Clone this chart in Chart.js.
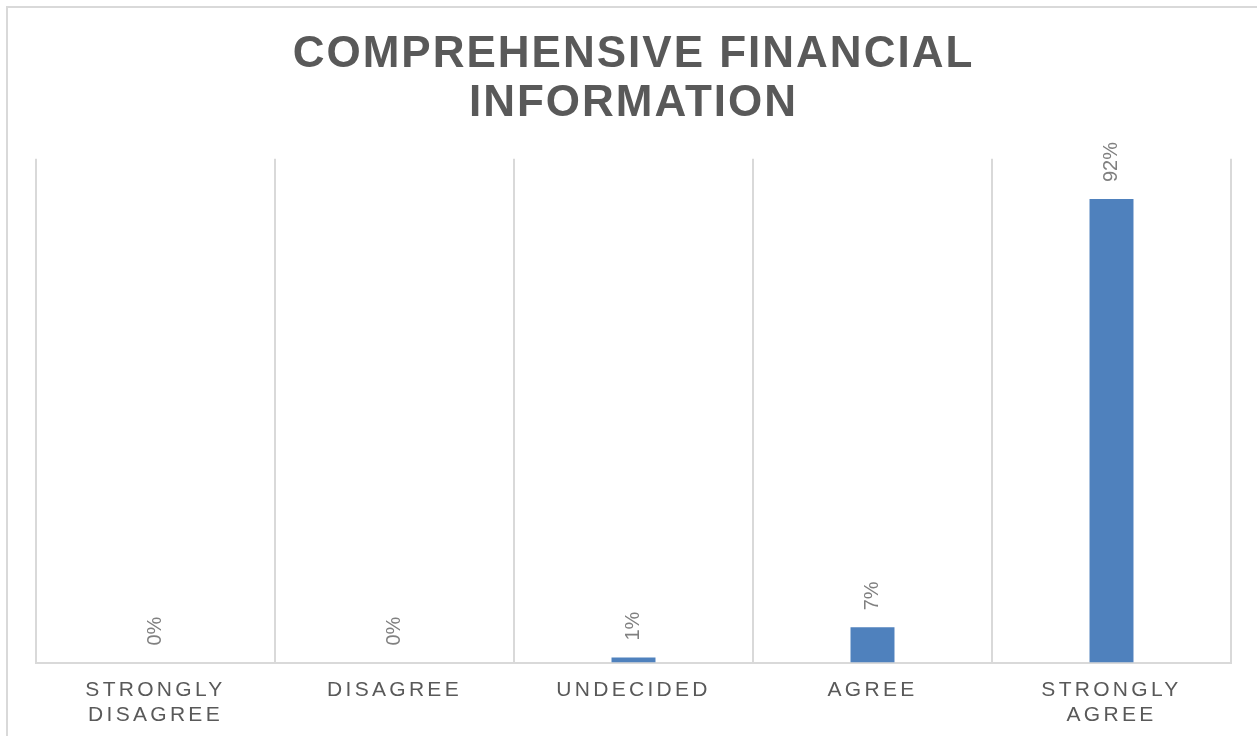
<!DOCTYPE html>
<html>
<head>
<meta charset="utf-8">
<script src="https://cdn.jsdelivr.net/npm/chart.js@4"></script>
<style>
  html, body { margin: 0; padding: 0; background: #fff; overflow: hidden; }
  .frame {
    position: absolute; left: 6px; top: 6px; width: 1270px; height: 750px;
    border: 2px solid #d9d9d9; box-sizing: border-box;
  }
  #chart { position: absolute; left: 0; top: 0; }
</style>
</head>
<body>
<div class="frame"></div>
<canvas id="chart" width="1257" height="736"></canvas>
<script>
const categories = [
  ['STRONGLY', 'DISAGREE'],
  'DISAGREE',
  'UNDECIDED',
  'AGREE',
  ['STRONGLY', 'AGREE']
];
const percentages = [0, 0, 1, 7, 92];

const FONT = "'Liberation Sans', Arial, sans-serif";

// canvas letter spacing differs for title, value labels and axis labels
const spacing = {
  id: 'spacing',
  beforeDraw(chart) { chart.ctx.letterSpacing = '2px'; },
  beforeDatasetsDraw(chart) { chart.ctx.letterSpacing = '0px'; },
  afterDatasetsDraw(chart) { chart.ctx.letterSpacing = '3.3px'; },
  afterDraw(chart) { chart.ctx.letterSpacing = '0px'; }
};

// rotated percentage above each bar
const valueLabels = {
  id: 'valueLabels',
  afterDatasetsDraw(chart) {
    const ctx = chart.ctx;
    const meta = chart.getDatasetMeta(0);
    ctx.save();
    ctx.letterSpacing = '0px';
    ctx.font = '20px ' + FONT;
    ctx.fillStyle = '#808080';
    ctx.textAlign = 'left';
    ctx.textBaseline = 'middle';
    meta.data.forEach((bar, i) => {
      ctx.save();
      ctx.translate(bar.x, bar.y - 17);
      ctx.rotate(-Math.PI / 2);
      ctx.fillText(percentages[i] + '%', 0, 0);
      ctx.restore();
    });
    ctx.restore();
  }
};

new Chart(document.getElementById('chart'), {
  type: 'bar',
  data: {
    labels: categories,
    datasets: [{
      data: percentages,
      backgroundColor: '#4f81bd',
      barPercentage: 0.184,
      categoryPercentage: 1
    }]
  },
  options: {
    responsive: false,
    animation: false,
    layout: { padding: { left: 36, right: 26, top: 0, bottom: -7 } },
    plugins: {
      legend: { display: false },
      tooltip: { enabled: false },
      title: {
        display: true,
        text: ['COMPREHENSIVE FINANCIAL', 'INFORMATION'],
        color: '#595959',
        font: { family: FONT, size: 44, weight: 'bold', lineHeight: 1.1 },
        padding: { top: 31, bottom: 31 }
      }
    },
    scales: {
      x: {
        grid: { color: '#d9d9d9', lineWidth: 2, drawTicks: false, offset: true },
        border: { color: '#d9d9d9', width: 2 },
        ticks: {
          z: 1,
          color: '#595959',
          padding: 15,
          maxRotation: 0,
          autoSkip: false,
          font: { family: FONT, size: 21, lineHeight: 1.2 }
        }
      },
      y: {
        display: false,
        min: 0,
        max: 100
      }
    }
  },
  plugins: [spacing, valueLabels]
});
</script>
</body>
</html>
